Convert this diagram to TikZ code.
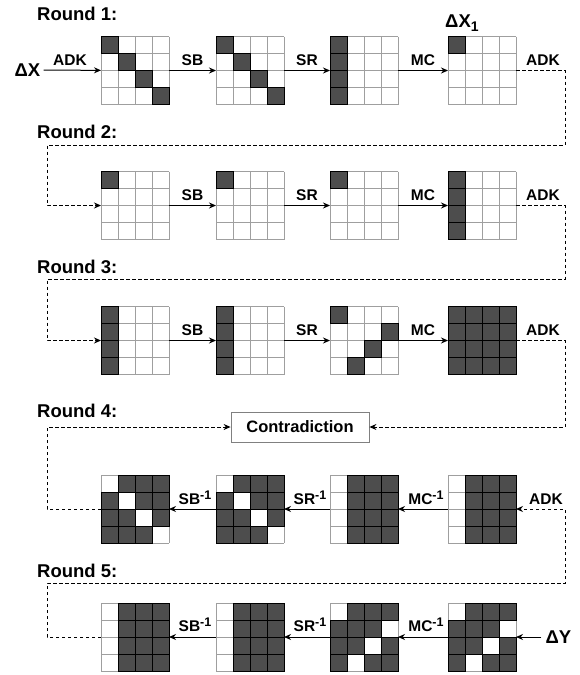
\documentclass[tikz,border=0pt]{standalone}
\usepackage{fontspec}
\setmainfont{Liberation Sans}
\usetikzlibrary{arrows.meta,calc}
\definecolor{cellc}{RGB}{77,77,77}
\tikzset{
  flow/.style={draw=black, line width=1pt, -{Stealth[length=7pt,width=6pt]}},
  dflow/.style={flow, dash pattern=on 3.5pt off 2.5pt},
  lbl/.style={font=\fontsize{15.5}{15.5}\selectfont\bfseries, inner sep=0pt, anchor=base},
  rlbl/.style={font=\fontsize{18.5}{18.5}\selectfont\bfseries, inner sep=0pt, anchor=base west},
  big/.style={font=\fontsize{18.5}{18.5}\selectfont\bfseries, inner ysep=0pt, inner xsep=3pt},
  cbox/.style={draw=gray, line width=0.8pt, minimum width=138pt, minimum height=30pt, inner sep=0pt,
    font=\fontsize{16.5}{16.5}\selectfont\bfseries},
}
\newcommand\inv{\raisebox{5pt}{\fontsize{12.5}{12.5}\selectfont -1}}
\newcommand\mygrid[4]{%
  \node[minimum size=68pt, inner sep=0pt, outer sep=0pt] (#1) at (#2,#3) {};
  \foreach \i in {0,...,4} {
    \draw[gray!75, line width=0.8pt] ($(#1.north west)+(\i*17,0)$) -- ++(0,68);
    \draw[gray!75, line width=0.8pt] ($(#1.north west)+(0,\i*17)$) -- ++(68,0);
  }
  \foreach \cc/\rr in {#4} {
    \filldraw[fill=cellc, draw=black, line width=0.8pt] ($(#1.north west)+(\cc*17,\rr*17)$) rectangle ++(17,17);
  }
}
\begin{document}
\begin{tikzpicture}[x=1pt,y=-1pt]
\useasboundingbox (0,0) rectangle (579,675);
% round titles
\node[rlbl] (t1) at (37,20) {Round 1:};
\node[rlbl] (t2) at (37,138) {Round 2:};
\node[rlbl] (t3) at (37,273) {Round 3:};
\node[rlbl] (t4) at (37,417) {Round 4:};
\node[rlbl] (t5) at (37,577) {Round 5:};
% grids
\mygrid{a1}{135}{70.5}{0/0,1/1,2/2,3/3}
\mygrid{a2}{250}{70.5}{0/0,1/1,2/2,3/3}
\mygrid{a3}{364}{70.5}{0/0,0/1,0/2,0/3}
\mygrid{a4}{482}{70.5}{0/0}
\mygrid{b1}{135}{205.5}{0/0}
\mygrid{b2}{250}{205.5}{0/0}
\mygrid{b3}{364}{205.5}{0/0}
\mygrid{b4}{482}{205.5}{0/0,0/1,0/2,0/3}
\mygrid{c1}{135}{340.5}{0/0,0/1,0/2,0/3}
\mygrid{c2}{250}{340.5}{0/0,0/1,0/2,0/3}
\mygrid{c3}{364}{340.5}{0/0,3/1,2/2,1/3}
\mygrid{c4}{482}{340.5}{0/0,1/0,2/0,3/0,0/1,1/1,2/1,3/1,0/2,1/2,2/2,3/2,0/3,1/3,2/3,3/3}
\mygrid{d1}{135}{509}{1/0,2/0,3/0,0/1,2/1,3/1,0/2,1/2,3/2,0/3,1/3,2/3}
\mygrid{d2}{250}{509}{1/0,2/0,3/0,0/1,2/1,3/1,0/2,1/2,3/2,0/3,1/3,2/3}
\mygrid{d3}{364}{509}{1/0,2/0,3/0,1/1,2/1,3/1,1/2,2/2,3/2,1/3,2/3,3/3}
\mygrid{d4}{482}{509}{1/0,2/0,3/0,1/1,2/1,3/1,1/2,2/2,3/2,1/3,2/3,3/3}
\mygrid{e1}{135}{637}{1/0,2/0,3/0,1/1,2/1,3/1,1/2,2/2,3/2,1/3,2/3,3/3}
\mygrid{e2}{250}{637}{1/0,2/0,3/0,1/1,2/1,3/1,1/2,2/2,3/2,1/3,2/3,3/3}
\mygrid{e3}{364}{637}{1/0,2/0,3/0,0/1,1/1,2/1,0/2,1/2,3/2,0/3,2/3,3/3}
\mygrid{e4}{482}{637}{1/0,2/0,3/0,0/1,1/1,2/1,0/2,1/2,3/2,0/3,2/3,3/3}
% terminals
\node[big] (dx) at (27.5,70) {ΔX};
\node[big, anchor=base west, inner sep=0pt] (dx1) at (445,27) {ΔX\raisebox{-4pt}{\fontsize{14}{14}\selectfont 1}};
\node[big, inner xsep=4pt] (dy) at (558.5,637) {ΔY};
\node[cbox] (con) at (300,427) {Contradiction};
% turn points
\coordinate (r1) at (565,145);
\coordinate (l1) at (47,145);
\coordinate (r2) at (565,279);
\coordinate (l2) at (47,279);
\coordinate (r3) at (565,427);
\coordinate (l3) at (47,427);
\coordinate (r4) at (565,583);
\coordinate (l4) at (47,583);
% round 1
\draw[flow] (dx) -- (a1);
\draw[flow] (a1) -- (a2);
\draw[flow] (a2) -- (a3);
\draw[flow] (a3) -- (a4);
\draw[dflow] (a4.east) -| (r1) -- (l1) |- (b1.west);
% round 2
\draw[flow] (b1) -- (b2);
\draw[flow] (b2) -- (b3);
\draw[flow] (b3) -- (b4);
\draw[dflow] (b4.east) -| (r2) -- (l2) |- (c1.west);
% round 3
\draw[flow] (c1) -- (c2);
\draw[flow] (c2) -- (c3);
\draw[flow] (c3) -- (c4);
\draw[dflow] (c4.east) -| (r3) -- (con.east);
% round 4
\draw[flow] (d4) -- (d3);
\draw[flow] (d3) -- (d2);
\draw[flow] (d2) -- (d1);
\draw[dflow] (d1.west) -| (l3) -- (con.west);
% round 5
\draw[flow] (dy) -- (e4);
\draw[flow] (e4) -- (e3);
\draw[flow] (e3) -- (e2);
\draw[flow] (e2) -- (e1);
\draw[dflow] (e1.west) -| (l4) -- (r4) |- (d4.east);
% labels
\node[lbl] (k1) at (70,65) {ADK};
\node[lbl] (k2) at (192.5,65) {SB};
\node[lbl] (k3) at (307,65) {SR};
\node[lbl] (k4) at (423,65) {MC};
\node[lbl] (k5) at (543,65) {ADK};
\node[lbl] (m2) at (192.5,200) {SB};
\node[lbl] (m3) at (307,200) {SR};
\node[lbl] (m4) at (423,200) {MC};
\node[lbl] (m5) at (543,200) {ADK};
\node[lbl] (n2) at (192.5,335) {SB};
\node[lbl] (n3) at (307,335) {SR};
\node[lbl] (n4) at (423,335) {MC};
\node[lbl] (n5) at (543,335) {ADK};
\node[lbl] (p2) at (195,504.5) {SB\inv};
\node[lbl] (p3) at (310,504.5) {SR\inv};
\node[lbl] (p4) at (426,504.5) {MC\inv};
\node[lbl] (p5) at (546,504.5) {ADK};
\node[lbl] (q2) at (195,631.5) {SB\inv};
\node[lbl] (q3) at (310,631.5) {SR\inv};
\node[lbl] (q4) at (426,631.5) {MC\inv};
\end{tikzpicture}
\end{document}
